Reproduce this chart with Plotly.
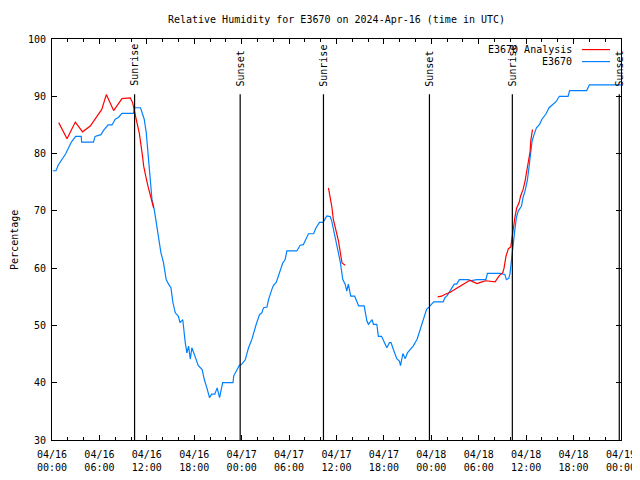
import pandas as pd
import plotly.graph_objects as go

START = pd.Timestamp("2024-04-16 00:00")

# E3670 observations: hours since 2024-04-16 00:00 UTC, relative humidity (%)
obs_hours = [0.1, 0.5, 0.8, 1.3, 1.75, 2.1, 2.45, 3.0, 3.7, 3.75, 5.25, 5.45, 6.2, 6.5, 7.1, 7.6, 8.0, 8.4, 8.85,
             10.3, 10.45, 11.2, 11.4, 11.67, 11.93, 12.1, 12.3, 12.52, 12.65, 12.94, 13.19, 13.48, 13.78, 14.1,
             14.45, 14.75, 15.05, 15.3, 15.6, 16.0, 16.2, 16.55, 16.65, 16.86, 17.07, 17.28, 17.5, 17.7, 18.1,
             18.5, 19.0, 19.26, 19.6, 19.93, 20.2, 20.6, 20.9, 21.2, 21.6, 22.9, 23.0, 23.2, 23.5, 23.7, 24.0,
             24.45, 24.87, 25.3, 25.84, 26.26, 26.55, 26.77, 27.2, 27.4, 27.82, 28.03, 28.37, 28.79, 29.2, 29.5,
             29.72, 30.98, 31.4, 31.8, 32.16, 32.45, 33.1, 33.4, 33.85, 34.3, 34.78, 35.2, 35.4, 35.6, 35.95,
             36.1, 36.46, 36.8, 37.1, 37.3, 37.5, 37.8, 38.3, 38.8, 39.5, 39.84, 40.04, 40.5, 40.67, 41.1, 41.3,
             41.7, 42.15, 42.37, 42.7, 42.9, 43.2, 43.63, 43.96, 44.1, 44.4, 44.7, 44.97, 45.3, 45.7, 46.2, 46.6,
             47.0, 47.4, 47.7, 47.9, 48.3, 49.5, 49.7, 50.0, 50.37, 50.7, 50.9, 51.2, 51.55, 51.9, 52.7, 52.9,
             53.75, 54.9, 55.1, 56.7, 57.3, 57.5, 57.8, 57.96, 58.2, 58.3, 58.5, 58.76, 59.0, 59.4, 59.6, 59.86,
             60.15, 60.4, 60.6, 60.75, 61.0, 61.3, 61.7, 62.0, 62.5, 62.9, 63.4, 63.8, 64.2, 65.3, 65.5, 67.66,
             68.0, 72.0]
obs_rh = [77, 77, 78, 79, 80, 81, 82, 83, 83, 82, 82, 83, 83.3, 84, 85, 85, 86, 86.3, 87,
          87, 88, 88, 87, 86, 83.6, 80.7, 77.8, 75, 72, 70.2, 68, 65, 62.7, 61,
          58, 57.2, 56.6, 54, 52.2, 51.6, 50.5, 51, 49.3, 47, 45.2, 46.4, 44.1, 46.1, 44.6,
          43, 42.3, 40.6, 39.1, 37.4, 38, 38, 39.1, 37.4, 40, 40, 41.2, 41.7, 42.5, 43, 43.2,
          44, 46.1, 47.6, 50.2, 51.9, 52.2, 53.1, 53.2, 54.5, 56.3, 57, 57.5, 59.2, 60.9, 61.5,
          63, 63, 64, 64.1, 65, 66, 66, 67, 68, 68, 69.1, 69, 68.2, 66.8, 64.7,
          63.3, 61.2, 58, 57.2, 56, 57.2, 55.1, 55.1, 53.4, 53.4, 50.8, 50.2, 51, 50.2, 50.2, 48.1,
          48.1, 46.7, 46.1, 47, 47, 45.8, 44.2, 43.8, 43, 45.1, 44.2, 45.2, 45.8, 46.4, 47.6, 49.3,
          50.8, 52.8, 53.2, 53.5, 54.1, 54.1, 54.8, 55.2, 56, 56.9, 57.2, 57.2, 58, 58, 58, 57.8,
          58, 58, 59.1, 59.1, 58.9, 58, 58.2, 59.1, 62.7, 63.8, 65.9, 68.8, 70, 70.8, 72.3, 73.5,
          75.3, 78.1, 80.4, 82.2, 83.3, 84.5, 85.1, 86, 86.9, 88, 88.6, 89.1, 90, 90, 91, 91,
          92, 92]

# E3670 Analysis, three separate segments
ana1_hours = [0.85, 1.9, 2.95, 3.87, 4.84, 5.7, 6.3, 6.87, 7.8, 8.85, 9.9, 10.2, 10.45, 10.75, 11.04, 11.25,
              11.46, 11.6, 11.8, 12.0, 12.2, 12.43, 12.65, 12.86]
ana1_rh = [85.4, 82.6, 85.5, 83.8, 84.8, 86.5, 87.7, 90.3, 87.5, 89.6, 89.7, 88.9, 87.1, 85.4, 83.6, 81.9,
           79.5, 77.8, 76.1, 75.2, 74, 72.6, 71.7, 70.5]
ana2_hours = [34.98, 35.2, 35.4, 35.6, 35.8, 36.0, 36.25, 36.46, 36.7, 37.1]
ana2_rh = [74, 72.6, 70.8, 68.5, 67, 66.2, 64.7, 63, 60.9, 60.5]
ana3_hours = [48.8, 49.3, 49.7, 50.4, 51.0, 51.85, 52.5, 52.9, 53.3, 53.8, 54.4, 54.9, 56.07, 56.6, 57.04,
              57.2, 57.45, 57.75, 58.05, 58.2, 58.4, 58.6, 58.8, 59.1, 59.3, 59.6, 59.86, 60.15, 60.28, 60.5,
              60.58, 60.7, 60.8]
ana3_rh = [55, 55.1, 55.4, 55.8, 56.3, 57, 57.5, 57.9, 57.6, 57.3, 57.6, 57.8, 57.6, 58.7, 59.2,
           60, 62.1, 63.4, 63.7, 65.3, 66.8, 69.1, 70.5, 71.4, 72.6, 73.7, 75.2, 77.5, 79, 80.4,
           82.2, 83.9, 84.2]

# Sun events (hours since start)
sun_hours = [10.45, 23.81, 34.35, 47.76, 58.25, 71.78]
sun_labels = ["Sunrise", "Sunset", "Sunrise", "Sunset", "Sunrise", "Sunset"]

y_ticks = [30, 40, 50, 60, 70, 80, 90, 100]
legend_names = ["E3670 Analysis", "E3670"]
RED = "#ff0000"
BLUE = "#0080ff"
FONT = "DejaVu Sans Mono"

# page body has an 8px default margin: size the figure to fit the 640x480 window
FIG_W, FIG_H = 632, 472


def to_time(hours):
    return [START + pd.Timedelta(hours=h) for h in hours]


ana_x = to_time(ana1_hours) + [None] + to_time(ana2_hours) + [None] + to_time(ana3_hours)
ana_y = ana1_rh + [None] + ana2_rh + [None] + ana3_rh

fig = go.Figure()
fig.add_trace(go.Scatter(x=to_time(obs_hours), y=obs_rh, mode="lines", name=legend_names[1],
                         line=dict(color=BLUE, width=1.2), showlegend=False))
fig.add_trace(go.Scatter(x=ana_x, y=ana_y, mode="lines", name=legend_names[0], connectgaps=False,
                         line=dict(color=RED, width=1.2), showlegend=False))

for h, lab in zip(sun_hours, sun_labels):
    t = START + pd.Timedelta(hours=h)
    fig.add_shape(type="line", xref="x", yref="y", x0=t, x1=t, y0=30, y1=90.35,
                  line=dict(color="black", width=1.2))
    fig.add_annotation(x=t, y=91.4, xref="x", yref="y", text=lab, textangle=-90, showarrow=False,
                       xanchor="center", yanchor="bottom", font=dict(family=FONT, size=10, color="black"))

# custom gnuplot-style legend (text left of sample line)
for i, (name, col) in enumerate(zip(legend_names, [RED, BLUE])):
    yy = 0.9736 - i * 0.0299
    fig.add_annotation(x=0.9174, y=yy, xref="paper", yref="paper", text=name, showarrow=False,
                       xanchor="right", yanchor="middle", font=dict(family=FONT, size=10, color="black"))
    fig.add_shape(type="line", xref="paper", yref="paper", x0=0.9315, x1=0.9807, y0=yy, y1=yy,
                  line=dict(color=col, width=1.2))

fig.add_annotation(x=-0.066, y=0.5, xref="paper", yref="paper", text="Percentage", textangle=-90,
                   showarrow=False, xanchor="center", yanchor="middle",
                   font=dict(family=FONT, size=10, color="black"))

fig.update_layout(
    width=FIG_W, height=FIG_H,
    margin=dict(l=44, r=19, t=31, b=40, pad=0),
    paper_bgcolor="white", plot_bgcolor="white",
    title=dict(text="Relative Humidity for E3670 on 2024-Apr-16 (time in UTC)", x=0.5, xref="paper",
               y=1 - 11 / FIG_H, yref="container", xanchor="center", yanchor="middle",
               font=dict(family=FONT, size=10, color="black")),
    font=dict(family=FONT, size=10, color="black"),
    showlegend=False,
)
fig.update_xaxes(type="date", range=[START, START + pd.Timedelta(hours=72)], dtick=6 * 3600 * 1000,
                 tick0=START, tickformat="%m/%d<br>%H:%M", ticks="inside", ticklen=5, tickcolor="black",
                 showline=True, linecolor="black", linewidth=1, mirror="ticks", showgrid=False, zeroline=False,
                 automargin=False, ticklabelstandoff=5,
                 minor=dict(dtick=2 * 3600 * 1000, tick0=START, ticks="inside", ticklen=3, tickcolor="black",
                            showgrid=False),
                 tickfont=dict(family=FONT, size=10, color="black"))
fig.update_yaxes(range=[30, 100], tickvals=y_ticks, ticks="inside", ticklen=5, tickcolor="black",
                 showline=True, linecolor="black", linewidth=1, mirror="ticks", showgrid=False, zeroline=False,
                 automargin=False, ticklabelstandoff=3,
                 tickfont=dict(family=FONT, size=10, color="black"))

fig.write_html("out.html")
